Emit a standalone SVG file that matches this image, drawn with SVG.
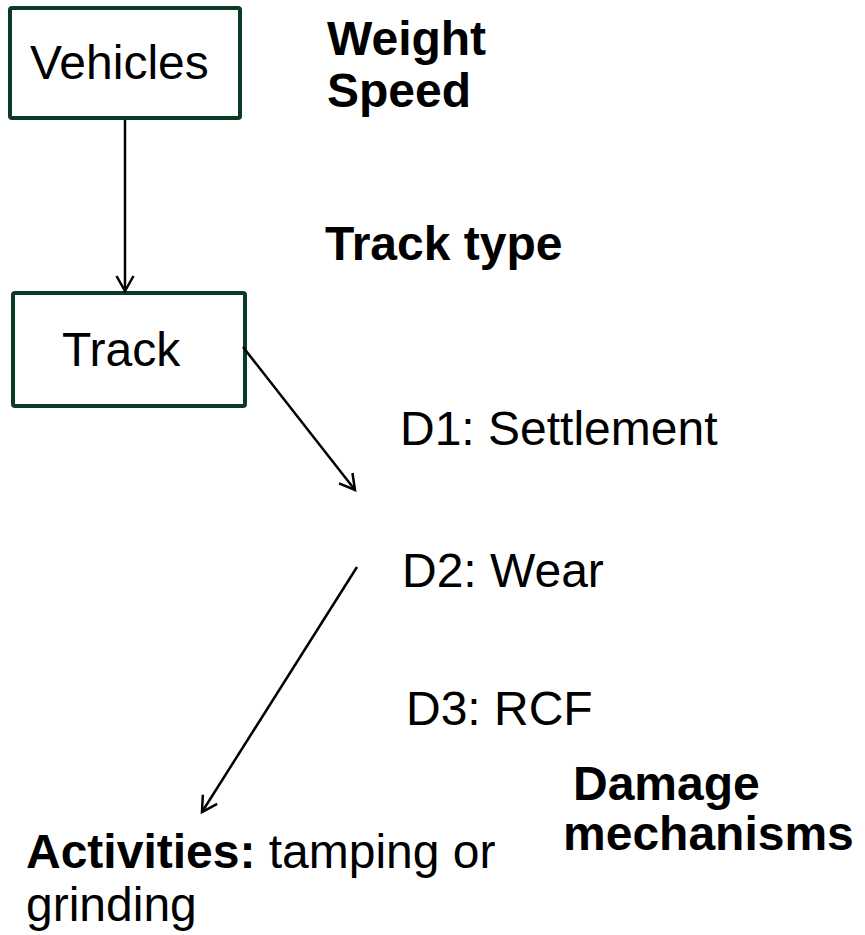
<svg xmlns="http://www.w3.org/2000/svg" width="865" height="935" viewBox="0 0 865 935">
  <style>
    .box { fill: #ffffff; stroke: #0b3b22; stroke-width: 4; }
    .t { font-family: "Liberation Sans", Arial, sans-serif; font-size: 48px; fill: #000000; }
    .b { font-weight: bold; }
    .edge { stroke: #000000; stroke-width: 2.5; fill: none; }
  </style>
  <defs>
    <marker id="open-arrow" markerUnits="userSpaceOnUse" markerWidth="24" markerHeight="24" viewBox="-20 -12 24 24" refX="0" refY="0" orient="auto">
      <path d="M-15,-8.5 L0,0 L-15,8.5" fill="none" stroke="#000000" stroke-width="2.5" stroke-linejoin="miter"/>
    </marker>
  </defs>
  <rect width="865" height="935" fill="#ffffff"/>

  <g id="vehicles">
    <rect class="box" x="10" y="8" width="230" height="110" rx="2"/>
    <text class="t" x="30" y="79">Vehicles</text>
  </g>

  <g id="vehicle-factors">
    <text class="t b" x="327" y="55">Weight</text>
    <text class="t b" x="327" y="107">Speed</text>
  </g>

  <g id="track-type">
    <text class="t b" x="325" y="260">Track type</text>
  </g>

  <g id="track">
    <rect class="box" x="13" y="293" width="232" height="113" rx="2"/>
    <text class="t" x="62" y="366">Track</text>
  </g>

  <g id="damage-list">
    <text class="t" x="400" y="445">D1: Settlement</text>
    <text class="t" x="402" y="587">D2: Wear</text>
    <text class="t" x="406" y="725">D3: RCF</text>
  </g>

  <g id="damage-mechanisms">
    <text class="t b" x="573" y="800">Damage</text>
    <text class="t b" x="563" y="850">mechanisms</text>
  </g>

  <g id="activities">
    <text class="t" x="26" y="868"><tspan class="b">Activities:</tspan> tamping or</text>
    <text class="t" x="26" y="921">grinding</text>
  </g>

  <g id="connectors">
    <line class="edge" x1="125" y1="120" x2="125" y2="291" marker-end="url(#open-arrow)"/>
    <line class="edge" x1="243" y1="347" x2="355" y2="490" marker-end="url(#open-arrow)"/>
    <line class="edge" x1="357" y1="567" x2="202" y2="812" marker-end="url(#open-arrow)"/>
  </g>
</svg>
